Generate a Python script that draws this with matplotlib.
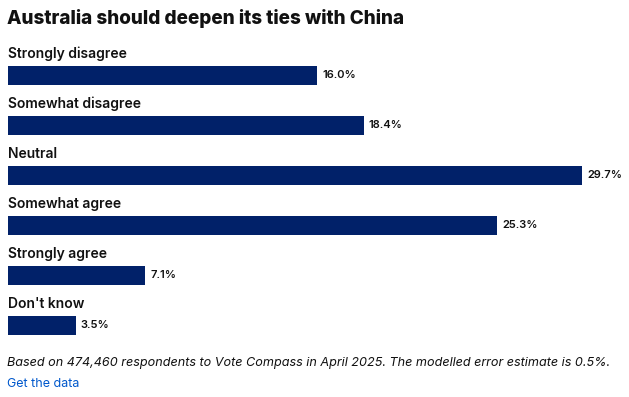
import matplotlib.pyplot as plt

categories = ['Strongly disagree', 'Somewhat disagree', 'Neutral',
              'Somewhat agree', 'Strongly agree', "Don't know"]
values = [16.0, 18.4, 29.7, 25.3, 7.1, 3.5]
value_labels = ['16.0%', '18.4%', '29.7%', '25.3%', '7.1%', '3.5%']

title = 'Australia should deepen its ties with China'
note = ('Based on 474,460 respondents to Vote Compass in April 2025. '
        'The modelled error estimate is 0.5%.')
link = 'Get the data'

bar_color = '#012169'
W, H = 629, 397

plt.rcParams['font.family'] = ['Inter', 'DejaVu Sans']

fig = plt.figure(figsize=(W / 100, H / 100), dpi=100)
fig.patch.set_facecolor('white')

# axes placed in pixel terms: bars start at x=8, largest bar ends at x=582
left, right = 8, 582
top, bottom = 50.5, 350.5
ax = fig.add_axes([left / W, 1 - bottom / H, (right - left) / W, (bottom - top) / H])
ax.set_xlim(0, max(values))
ax.set_ylim(len(values) - 0.5, -0.5)
ax.axis('off')

ys = list(range(len(values)))
ax.barh(ys, values, height=0.39, color=bar_color)

for y, cat, v, lab in zip(ys, categories, values, value_labels):
    ax.text(0, y - 0.43, cat, fontsize=10.0, fontweight='semibold',
            color='#111111', va='center', ha='left', clip_on=False)
    ax.annotate(lab, xy=(v, y), xytext=(5, 0), textcoords='offset pixels',
                fontsize=8.0, fontweight='semibold', color='#111111',
                va='center', ha='left', annotation_clip=False)

fig.text(7 / W, 1 - 18 / H, title, fontsize=13.6, fontweight='heavy',
         color='#111111', va='center', ha='left')
fig.text(7 / W, 1 - 363 / H, note, fontsize=9.1, style='italic',
         color='#111111', va='center', ha='left')
fig.text(7 / W, 1 - 384 / H, link, fontsize=9.0, color='#0058cc',
         va='center', ha='left')

plt.savefig('out.png', dpi=100, facecolor='white')
